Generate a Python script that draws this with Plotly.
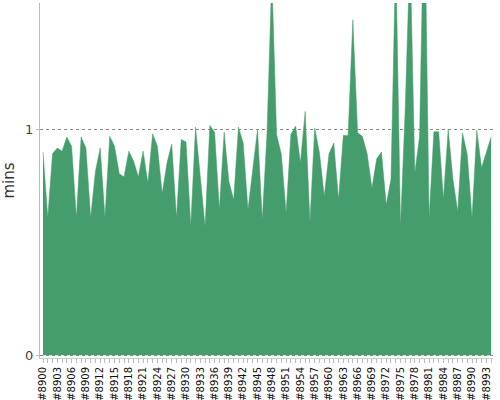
import plotly.graph_objects as go

# build numbers #8900 .. #8994
builds = ["#%d" % n for n in range(8900, 8995)]

# run time per build, in minutes
mins = [
    0.90, 0.61, 0.893, 0.918, 0.904, 0.967, 0.926, 0.61, 0.967, 0.918,
    0.61, 0.815, 0.918, 0.61, 0.97, 0.926, 0.804, 0.79, 0.904, 0.86,
    0.79, 0.904, 0.763, 0.981, 0.926, 0.716, 0.85, 0.936, 0.61, 0.956,
    0.945, 0.573, 1.01, 0.79, 0.57, 1.018, 0.988, 0.644, 0.988, 0.77,
    0.689, 1.01, 0.94, 0.644, 0.822, 1.0, 0.6, 0.985, 1.68, 0.978,
    0.889, 0.63, 0.978, 1.015, 0.852, 1.08, 0.59, 1.007, 0.896, 0.704,
    0.893, 0.94, 0.689, 0.973, 0.973, 1.486, 0.985, 0.97, 0.893, 0.741,
    0.87, 0.9, 0.667, 0.78, 1.78, 0.57, 1.1, 1.8, 0.807, 0.97,
    2.1, 0.607, 0.99, 0.99, 0.692, 1.0, 0.778, 0.637, 0.985, 0.889,
    0.607, 0.997, 0.83, 0.904, 0.967,
]

# label only every third build, tick on every one
tick_text = [b if i % 3 == 0 else "" for i, b in enumerate(builds)]

green = "#459d6d"

fig = go.Figure()
fig.add_trace(go.Scatter(
    x=builds, y=mins, mode="lines", fill="tozeroy",
    line=dict(color=green, width=0.5), fillcolor=green,
    hoverinfo="x+y", showlegend=False,
))

fig.update_layout(
    width=500, height=400,
    margin=dict(l=40, r=7, t=3, b=42),
    paper_bgcolor="white", plot_bgcolor="white",
    font=dict(family="DejaVu Sans", size=12, color="#444"),
    xaxis=dict(
        type="category", range=[-0.63, 94.4], automargin=False,
        tickmode="array", tickvals=builds, ticktext=tick_text,
        tickangle=-90, tickfont=dict(size=10, color="#111"),
        ticks="outside", ticklen=4, tickcolor="#bbb",
        showline=True, linecolor="#ccc", linewidth=1,
        showgrid=False, zeroline=False,
    ),
    yaxis=dict(
        range=[-0.012, 1.56], automargin=False,
        tickvals=[0, 1], ticktext=["0", "1"],
        tickfont=dict(size=13, color="#444"),
        ticks="outside", ticklen=3, tickcolor="#bbb",
        showline=True, linecolor="#bbb", linewidth=1,
        showgrid=True, gridcolor="#888", griddash="dot", gridwidth=1,
        zeroline=False,
        title=dict(text="mins", font=dict(size=15, color="#333"), standoff=6),
    ),
)

# page body has an 8px default margin; drop it so the figure fills the window
fig.write_html(
    "out.html",
    config={"displayModeBar": False},
    post_script="document.body.style.margin='0';",
)
